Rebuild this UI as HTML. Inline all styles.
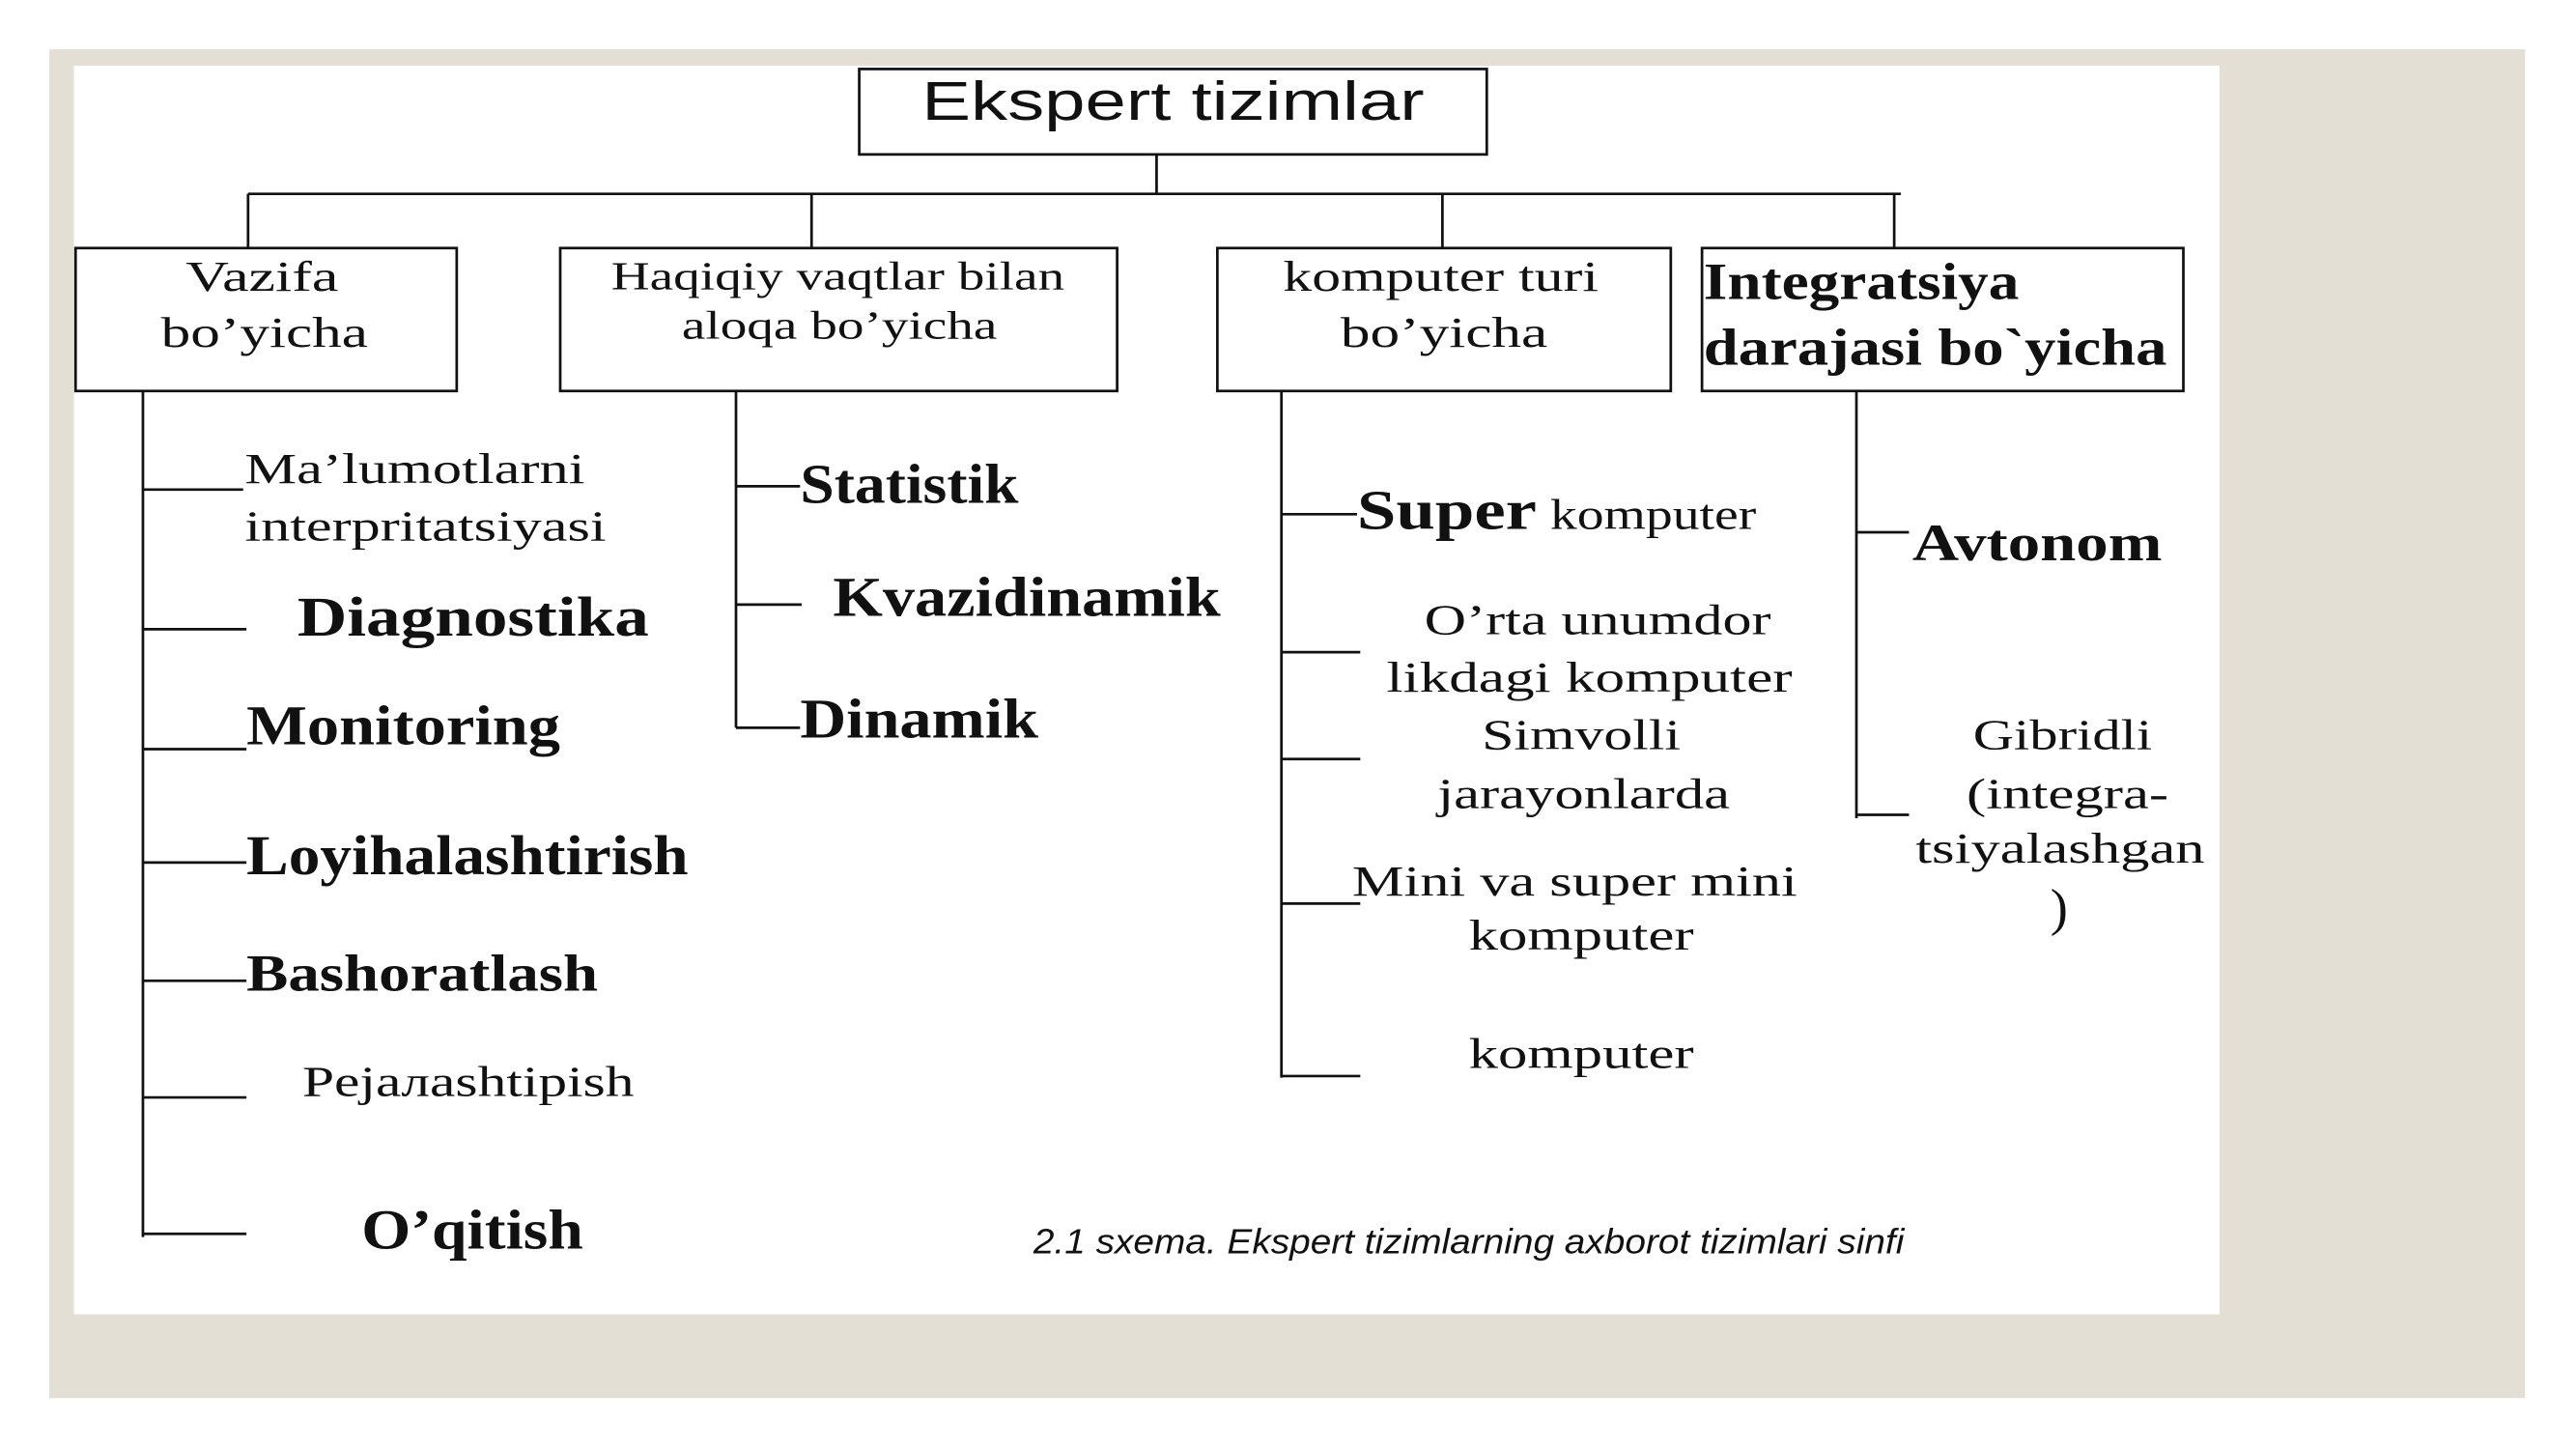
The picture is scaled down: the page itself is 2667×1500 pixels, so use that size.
<!DOCTYPE html>
<html><head><meta charset="utf-8"><style>
html,body{margin:0;padding:0;background:#fff;}
svg{display:block}
text{font-family:"Liberation Serif",serif;fill:#111}
</style></head><body>
<svg width="2667" height="1500" viewBox="0 0 1568 882" preserveAspectRatio="none" xmlns="http://www.w3.org/2000/svg">
<rect x="30" y="30" width="1507" height="821" fill="#e3dfd4"/>
<rect x="45" y="40" width="1306" height="760" fill="#fff"/>
<g stroke="#111" stroke-width="1.6" fill="none">
<rect x="523" y="42" width="382" height="52"/>
<rect x="46" y="151" width="232" height="87"/>
<rect x="341" y="151" width="339" height="87"/>
<rect x="741" y="151" width="276" height="87"/>
<rect x="1036" y="151" width="293" height="87"/>
<path d="M704 94V118M151 118H1157M151 118V151M494 118V151M878 118V151M1153 118V151"/>
<path d="M87 238V753M87 298H148M87 383H150M87 456H150M87 525H150M87 597H150M87 668H150M87 751H150"/>
<path d="M448 238V443M448 296H487M448 368H488M448 443H487"/>
<path d="M780 238V656M780 313H826M780 397H828M780 462H828M780 550H828M780 655H828"/>
<path d="M1130 238V498M1130 324H1162M1130 496H1162"/>
</g>
<text x="714" y="73" text-anchor="middle" font-size="33" textLength="306" lengthAdjust="spacingAndGlyphs" style="font-family:'Liberation Sans',sans-serif">Ekspert tizimlar</text>
<g font-size="26">
<text x="113" y="177" textLength="93" lengthAdjust="spacingAndGlyphs">Vazifa</text>
<text x="98" y="211" textLength="126" lengthAdjust="spacingAndGlyphs">bo’yicha</text>
<text x="510" y="176" text-anchor="middle" font-size="24" textLength="276" lengthAdjust="spacingAndGlyphs">Haqiqiy vaqtlar bilan</text>
<text x="511" y="206" text-anchor="middle" font-size="24" textLength="192" lengthAdjust="spacingAndGlyphs">aloqa bo’yicha</text>
<text x="877" y="177" text-anchor="middle" textLength="192" lengthAdjust="spacingAndGlyphs">komputer turi</text>
<text x="816" y="211" textLength="126" lengthAdjust="spacingAndGlyphs">bo’yicha</text>
<text x="1037" y="182" font-weight="bold" font-size="32" textLength="192" lengthAdjust="spacingAndGlyphs">Integratsiya</text>
<text x="1037" y="222" font-weight="bold" font-size="32" textLength="282" lengthAdjust="spacingAndGlyphs">darajasi bo`yicha</text>

<text x="149" y="294" textLength="207" lengthAdjust="spacingAndGlyphs">Ma’lumotlarni</text>
<text x="149" y="329" textLength="220" lengthAdjust="spacingAndGlyphs">interpritatsiyasi</text>
<text x="181" y="387" font-weight="bold" font-size="34" textLength="214" lengthAdjust="spacingAndGlyphs">Diagnostika</text>
<text x="150" y="453" font-weight="bold" font-size="34" textLength="191" lengthAdjust="spacingAndGlyphs">Monitoring</text>
<text x="150" y="532" font-weight="bold" font-size="34" textLength="269" lengthAdjust="spacingAndGlyphs">Loyihalashtirish</text>
<text x="150" y="603" font-weight="bold" font-size="32" textLength="214" lengthAdjust="spacingAndGlyphs">Bashoratlash</text>
<text x="184" y="667" textLength="202" lengthAdjust="spacingAndGlyphs">Pejaлashtipish</text>
<text x="220" y="760" font-weight="bold" font-size="34" textLength="135" lengthAdjust="spacingAndGlyphs">O’qitish</text>

<text x="487" y="306" font-weight="bold" font-size="34" textLength="133" lengthAdjust="spacingAndGlyphs">Statistik</text>
<text x="507" y="375" font-weight="bold" font-size="34" textLength="236" lengthAdjust="spacingAndGlyphs">Kvazidinamik</text>
<text x="487" y="449" font-weight="bold" font-size="34" textLength="145" lengthAdjust="spacingAndGlyphs">Dinamik</text>

<text x="826" y="322" textLength="243" lengthAdjust="spacingAndGlyphs"><tspan font-weight="bold" font-size="34">Super</tspan> komputer</text>
<text x="867" y="386" textLength="211" lengthAdjust="spacingAndGlyphs">O’rta unumdor</text>
<text x="844" y="421" textLength="247" lengthAdjust="spacingAndGlyphs">likdagi komputer</text>
<text x="902" y="456" textLength="121" lengthAdjust="spacingAndGlyphs">Simvolli</text>
<text x="875" y="492" textLength="178" lengthAdjust="spacingAndGlyphs">jarayonlarda</text>
<text x="823" y="545" textLength="271" lengthAdjust="spacingAndGlyphs">Mini va super mini</text>
<text x="894" y="578" textLength="137" lengthAdjust="spacingAndGlyphs">komputer</text>
<text x="894" y="650" textLength="137" lengthAdjust="spacingAndGlyphs">komputer</text>

<text x="1164" y="341" font-weight="bold" font-size="32" textLength="152" lengthAdjust="spacingAndGlyphs">Avtonom</text>
<text x="1201" y="456" textLength="109" lengthAdjust="spacingAndGlyphs">Gibridli</text>
<text x="1197" y="492" textLength="123" lengthAdjust="spacingAndGlyphs">(integra-</text>
<text x="1166" y="525" textLength="176" lengthAdjust="spacingAndGlyphs">tsiyalashgan</text>
<text x="1248" y="563" font-size="32">)</text>
</g>
<text x="629" y="763" font-size="21" font-style="italic" textLength="530" lengthAdjust="spacingAndGlyphs" style="font-family:'Liberation Sans',sans-serif">2.1 sxema. Ekspert tizimlarning axborot tizimlari sinfi</text>
</svg>
</body></html>
